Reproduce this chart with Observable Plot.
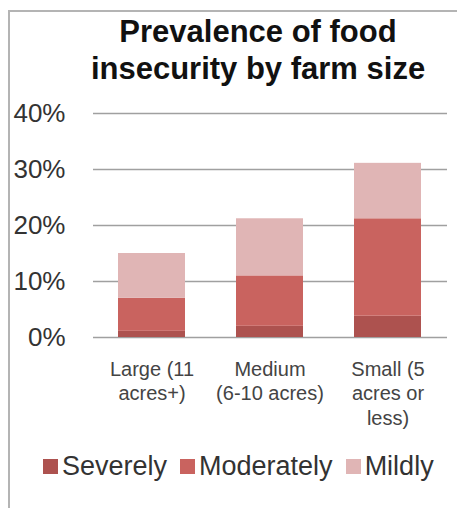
<!DOCTYPE html>
<html>
<head>
<meta charset="utf-8">
<script src="https://cdn.jsdelivr.net/npm/d3@7"></script>
<script src="https://cdn.jsdelivr.net/npm/@observablehq/plot@0.6"></script>
<style>
  html, body { margin: 0; padding: 0; background: #fff; }
  #wrap { position: relative; width: 457px; height: 508px; overflow: hidden; font-family: "Liberation Sans", Arial, sans-serif; }
  #frame { position: absolute; left: 8px; top: 10px; width: 460px; height: 510px; border-top: 2px solid #b4b4b4; border-left: 2px solid #b4b4b4; }
  #title { position: absolute; left: 58px; width: 400px; top: 13px; text-align: center; font-weight: bold; font-size: 31px; line-height: 37px; color: #111; }
  #chart { position: absolute; left: 0; top: 95px; }
  #legend { position: absolute; left: 43px; top: 451px; font-size: 27px; color: #333; display: flex; align-items: center; white-space: nowrap; }
  #legend .item { display: flex; align-items: center; margin-right: 13px; }
  #legend .sw { width: 15px; height: 15px; margin-right: 4px; }
</style>
</head>
<body>
<div id="wrap">
  <div id="frame"></div>
  <div id="title">Prevalence of food<br>insecurity by farm size</div>
  <div id="chart"></div>
  <div id="legend"></div>
</div>
<script>
const categories = ["Large (11\nacres+)", "Medium\n(6-10 acres)", "Small (5\nacres or\nless)"];
const series = ["Severely", "Moderately", "Mildly"];
const severely = [1.1, 2.0, 3.8];
const moderately = [5.9, 9.0, 17.4];
const mildly = [8.0, 10.2, 9.9];
const yTicks = [0, 10, 20, 30, 40];
const colors = ["#ad524f", "#c9635f", "#e0b5b5"];

const seriesValues = [severely, moderately, mildly];
const data = [];
series.forEach((s, si) => categories.forEach((c, ci) => data.push({category: c, series: s, value: seriesValues[si][ci]})));

const chart = Plot.plot({
  width: 457,
  height: 345,
  marginTop: 18,
  marginBottom: 103,
  marginLeft: 93,
  marginRight: 10,
  style: {fontFamily: "Liberation Sans, Arial, sans-serif", background: "transparent"},
  x: {domain: categories, paddingInner: 0.43, paddingOuter: 0.215, label: null},
  y: {domain: [0, 40], label: null},
  color: {domain: series, range: colors},
  marks: [
    Plot.ruleY(yTicks, {stroke: "#a0a0a0", strokeWidth: 1.5}),
    Plot.barY(data, Plot.stackY({x: "category", y: "value", fill: "series", order: series})),
    Plot.axisY(yTicks, {tickSize: 0, tickPadding: 28, fontSize: 26, tickFormat: d => d + "%", fill: "#333", label: null}),
    Plot.axisX({tickSize: 0, tickPadding: 21, fontSize: 20, lineHeight: 1.22, fill: "#444", label: null})
  ]
});
document.getElementById("chart").appendChild(chart);

const legend = document.getElementById("legend");
series.forEach((s, i) => {
  const item = document.createElement("div");
  item.className = "item";
  const sw = document.createElement("span");
  sw.className = "sw";
  sw.style.background = colors[i];
  const t = document.createElement("span");
  t.textContent = s;
  item.appendChild(sw);
  item.appendChild(t);
  legend.appendChild(item);
});
</script>
</body>
</html>
